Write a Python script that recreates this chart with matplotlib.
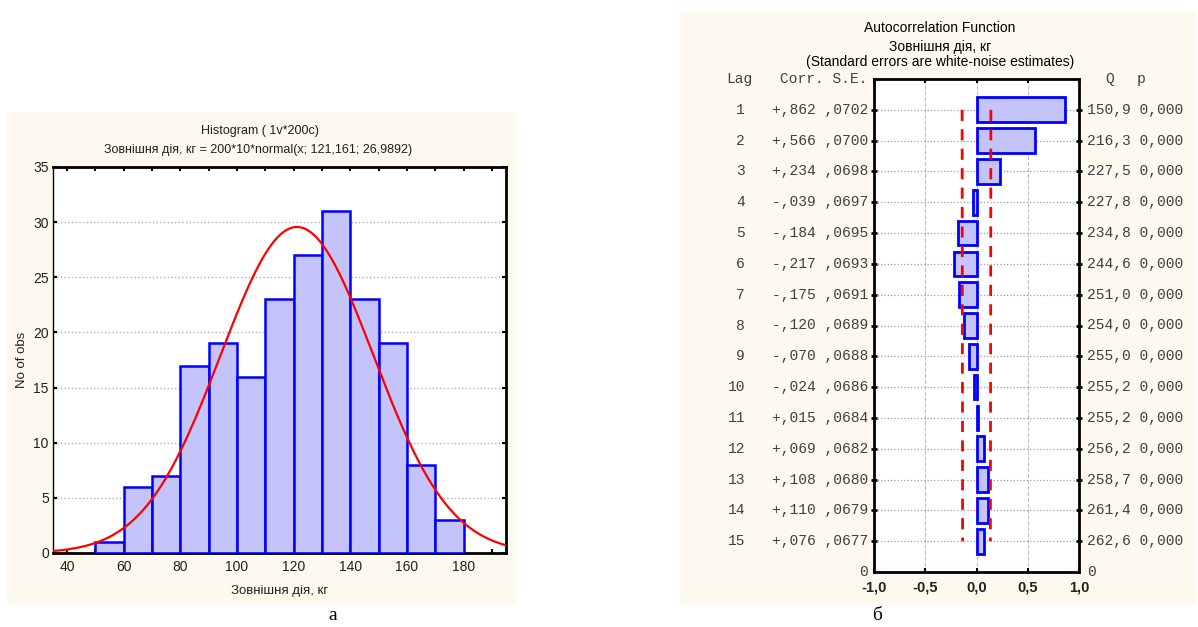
import numpy as np
import matplotlib
matplotlib.use("Agg")
import matplotlib.pyplot as plt
from matplotlib.patches import Rectangle

# histogram data (panel a)
bin_edges = [50, 60, 70, 80, 90, 100, 110, 120, 130, 140, 150, 160, 170, 180]
counts = [1, 6, 7, 17, 19, 16, 23, 27, 31, 23, 19, 8, 3]
fit_n, fit_width, fit_mean, fit_sd = 200, 10, 121.161, 26.9892

# autocorrelation data (panel b)
lags = [1, 2, 3, 4, 5, 6, 7, 8, 9, 10, 11, 12, 13, 14, 15]
corr = [0.862, 0.566, 0.234, -0.039, -0.184, -0.217, -0.175, -0.120,
        -0.070, -0.024, 0.015, 0.069, 0.108, 0.110, 0.076]
se = [0.0702, 0.0700, 0.0698, 0.0697, 0.0695, 0.0693, 0.0691, 0.0689,
      0.0688, 0.0686, 0.0684, 0.0682, 0.0680, 0.0679, 0.0677]
q_stat = ["150,9", "216,3", "227,5", "227,8", "234,8", "244,6", "251,0", "254,0",
          "255,0", "255,2", "255,2", "256,2", "258,7", "261,4", "262,6"]
p_val = ["0,000"] * 15

W, H = 1198, 627
CREAM = "#fdf9ee"
BAR_FC = "#c4c4fa"
BLUE = "#0000ff"
TXT = "#404040"

plt.rcParams["font.family"] = ["Liberation Sans", "DejaVu Sans"]

fig = plt.figure(figsize=(W / 100, H / 100), dpi=100)


def fx(x):
    return x / W


def fy(y):
    return 1 - y / H


# panel backgrounds
fig.patches.append(Rectangle((fx(7), fy(603)), fx(508), (603 - 113) / H,
                             transform=fig.transFigure, color=CREAM, zorder=-10))
fig.patches.append(Rectangle((fx(680), fy(602)), fx(515), (602 - 12) / H,
                             transform=fig.transFigure, color=CREAM, zorder=-10))

# ---------- panel a: histogram ----------
ax1 = fig.add_axes([fx(53), fy(553), fx(506 - 53), (553 - 167) / H])
ax1.set_facecolor("white")
ax1.bar(bin_edges[:-1], counts, width=np.diff(bin_edges), align="edge",
        facecolor=BAR_FC, edgecolor=BLUE, linewidth=1.8, zorder=3)
xs = np.linspace(35, 195, 400)
pdf = fit_n * fit_width * np.exp(-0.5 * ((xs - fit_mean) / fit_sd) ** 2) / (fit_sd * np.sqrt(2 * np.pi))
ax1.plot(xs, pdf, color="#ff0000", linewidth=1.6, zorder=4)
ax1.set_xlim(35, 195)
ax1.set_ylim(0, 35)
ax1.set_xticks(range(40, 181, 20))
ax1.set_xticks(range(40, 191, 10), minor=True)
ax1.set_yticks(range(0, 36, 5))
ax1.yaxis.grid(True, linestyle=":", color="#b0b0b0", linewidth=1, zorder=0)
ax1.tick_params(direction="in", top=True, right=True, labelsize=10, length=3, width=1.5,
                colors="black", pad=5)
ax1.tick_params(axis="y", pad=3)
ax1.tick_params(which="minor", direction="in", top=True, length=3, width=1.5)
for t in ax1.get_xticklabels() + ax1.get_yticklabels():
    t.set_color("#202020")
for s in ["top", "right", "bottom"]:
    ax1.spines[s].set_linewidth(2)
ax1.spines["left"].set_linewidth(1)
ax1.set_xlabel("Зовнішня дія, кг", fontsize=9.5, color="#202020", labelpad=8)
ax1.set_ylabel("No of obs", fontsize=9.5, color="#202020")
ax1.yaxis.set_label_coords(-0.056, 0.5)
fig.text(fx(260), fy(131), "Histogram ( 1v*200c)", ha="center", va="center", fontsize=9, color="#202020")
fig.text(fx(258), fy(150), "Зовнішня дія, кг = 200*10*normal(x; 121,161; 26,9892)",
         ha="center", va="center", fontsize=9, color="#202020")

# ---------- panel b: autocorrelation ----------
ax2 = fig.add_axes([fx(874), fy(572), fx(1079 - 874), (572 - 79) / H])
ax2.set_facecolor("white")
ax2.barh(lags, corr, height=0.8, facecolor=BAR_FC, edgecolor=BLUE, linewidth=2, zorder=3)
ax2.plot([2 * s for s in se], lags, color="#ff0000", linestyle=(0, (4, 3)), linewidth=2, zorder=4)
ax2.plot([-2 * s for s in se], lags, color="#ff0000", linestyle=(0, (4, 3)), linewidth=2, zorder=4)
ax2.set_xlim(-1, 1)
ax2.set_ylim(16, 0)
ax2.set_xticks([-1, -0.5, 0, 0.5, 1])
ax2.set_xticklabels(["-1,0", "-0,5", "0,0", "0,5", "1,0"], fontsize=10.5, fontweight="bold",
                    color="#202020")
ax2.set_yticks(lags)
ax2.set_yticklabels([])
ax2.xaxis.grid(True, linestyle="--", color="#c0c0c0", linewidth=0.8, zorder=0)
ax2.yaxis.grid(True, linestyle=":", color="#a0a0a0", linewidth=0.9, zorder=0)
ax2.tick_params(axis="x", direction="in", top=True, length=3, width=1.5, pad=6)
ax2.tick_params(axis="y", direction="inout", left=True, right=True, length=4, width=2)
for s in ax2.spines.values():
    s.set_linewidth(2)

mono = ["Liberation Mono", "DejaVu Sans Mono"]
ms = 10.5
fig.text(fx(940), fy(28), "Autocorrelation Function", ha="center", va="center", fontsize=10, color="black")
fig.text(fx(940), fy(47), "Зовнішня дія, кг", ha="center", va="center", fontsize=10, color="black")
fig.text(fx(940), fy(62), "(Standard errors are white-noise estimates)", ha="center", va="center",
         fontsize=10, color="black")
fig.text(fx(752), fy(79), "Lag", ha="right", va="center", family=mono, fontsize=ms, color=TXT)
fig.text(fx(868), fy(79), "Corr. S.E.", ha="right", va="center", family=mono, fontsize=ms, color=TXT)
fig.text(fx(1105), fy(79), "Q", ha="left", va="center", family=mono, fontsize=ms, color=TXT)
fig.text(fx(1137), fy(79), "p", ha="left", va="center", family=mono, fontsize=ms, color=TXT)

to_fig = ax2.transData + fig.transFigure.inverted()
for lag, c, s, q, p in zip(lags, corr, se, q_stat, p_val):
    yf = to_fig.transform((0, lag))[1]
    cs = ("+" if c >= 0 else "-") + ("%.3f" % abs(c))[1:].replace(".", ",")
    ss = ("%.4f" % s)[1:].replace(".", ",")
    fig.text(fx(745), yf, str(lag), ha="right", va="center", family=mono, fontsize=ms, color=TXT)
    fig.text(fx(868), yf, cs + " " + ss, ha="right", va="center", family=mono, fontsize=ms, color=TXT)
    fig.text(fx(1087), yf, q + " " + p, ha="left", va="center", family=mono, fontsize=ms, color=TXT)
fig.text(fx(868), fy(572), "0", ha="right", va="center", family=mono, fontsize=ms, color=TXT)
fig.text(fx(1087), fy(572), "0", ha="left", va="center", family=mono, fontsize=ms, color=TXT)

# panel letters
serif = ["Liberation Serif", "DejaVu Serif"]
fig.text(fx(333), fy(615), "а", ha="center", va="center", family=serif, fontsize=14)
fig.text(fx(877), fy(615), "б", ha="center", va="center", family=serif, fontsize=14)

fig.savefig("out.png", dpi=100)
